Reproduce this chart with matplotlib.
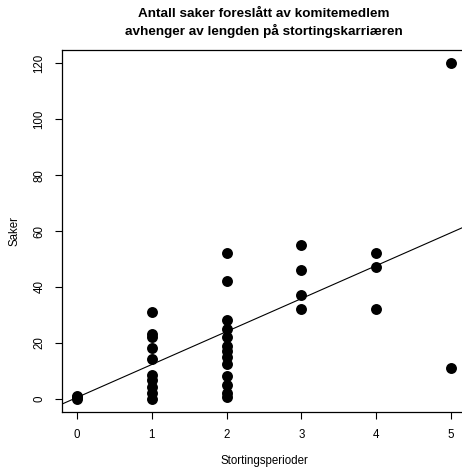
import numpy as np
import matplotlib.pyplot as plt

plt.rcParams["font.family"] = ["Liberation Sans", "DejaVu Sans"]

perioder = [0, 0, 0,
            1, 1, 1, 1, 1, 1, 1, 1, 1, 1,
            2, 2, 2, 2, 2, 2, 2, 2, 2, 2, 2, 2, 2,
            3, 3, 3, 3,
            4, 4, 4,
            5, 5]
saker = [0, 0.5, 1,
         31, 23, 22, 18, 14, 8.5, 6.5, 4, 2, 0,
         52, 42, 28, 25, 22, 19, 17, 15, 12.5, 8, 5, 2, 0.5,
         55, 46, 37, 32,
         52, 47, 32,
         120, 11]

# regression line
intercept = 0.4
slope = 11.8

x_ticks = [0, 1, 2, 3, 4, 5]
y_ticks = [0, 20, 40, 60, 80, 100, 120]

fig = plt.figure(figsize=(4.62, 4.69), dpi=100)
ax = fig.add_axes([62 / 462, 57 / 469, 404 / 462, 362 / 469])

ax.scatter(perioder, saker, s=62, color="black", zorder=3, linewidths=0)
xs = np.array([-0.2, 5.2])
ax.plot(xs, intercept + slope * xs, color="black", linewidth=0.8)

ax.set_xlim(-0.2, 5.2)
ax.set_ylim(-4.8, 124.8)
ax.set_xticks(x_ticks)
ax.set_yticks(y_ticks)
ax.set_yticklabels([str(v) for v in y_ticks], rotation=90, va="center")
ax.tick_params(axis="both", labelsize=8.3, length=5, width=0.8, direction="out", pad=7)
for s in ax.spines.values():
    s.set_linewidth(0.9)

ax.set_xlabel("Stortingsperioder", fontsize=8.3, labelpad=10)
ax.set_ylabel("Saker", fontsize=8.3, labelpad=9)
ax.set_title("Antall saker foreslått av komitemedlem\navhenger av lengden på stortingskarriæren",
             fontsize=9.7, fontweight="bold", pad=11, linespacing=1.3)

fig.savefig("out.png", dpi=100)
